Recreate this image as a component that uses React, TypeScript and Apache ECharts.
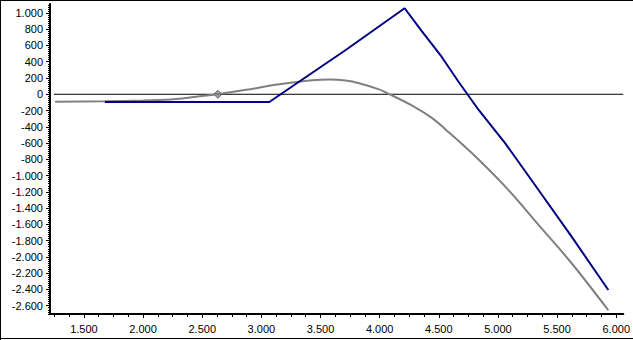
import React, { useEffect, useRef } from "react";
import * as echarts from "echarts";

// Blue series (payoff at expiry) [x, y]
const blueLine: [number, number][] = [
  [1.677, -95],
  [3.067, -95],
  [3.716, 548],
  [4.211, 1058],
  [4.348, 791],
  [4.525, 459],
  [4.668, 151],
  [4.837, -193],
  [5.062, -603],
  [5.343, -1177],
  [5.623, -1751],
  [5.933, -2407],
];

// Grey series (current value curve) [x, y]
const greyLine: [number, number][] = [
  [1.256, -92],
  [1.677, -86],
  [2.0, -78],
  [2.124, -72],
  [2.309, -55],
  [2.45, -30],
  [2.632, 0],
  [2.871, 55],
  [3.152, 122],
  [3.43, 172],
  [3.573, 182],
  [3.714, 168],
  [3.826, 135],
  [3.994, 60],
  [4.062, 15],
  [4.275, -140],
  [4.441, -291],
  [4.559, -435],
  [4.781, -726],
  [5.062, -1136],
  [5.343, -1605],
  [5.623, -2078],
  [5.933, -2656],
];

// Break-even marker
const markerPoint: [number, number][] = [[2.632, 0]];

// Zero reference line
const zeroLine: [number, number][] = [
  [1.247, 0],
  [6.06, 0],
];

const xMin = 1.213;
const xMax = 6.06;
const yMin = -2702;
const yMax = 1110;

const xTickValues = [1.5, 2.0, 2.5, 3.0, 3.5, 4.0, 4.5, 5.0, 5.5, 6.0];
const xMinorTicks: number[] = [];
for (let i = 10; i <= 48; i++) xMinorTicks.push(i * 0.125);

const yTickValues: number[] = [];
for (let v = -2600; v <= 1000; v += 200) yTickValues.push(v);
const yMinorTicks: number[] = [];
for (let v = -2700; v <= 1100; v += 25) yMinorTicks.push(v);

const fmtY = (v: number) => {
  const s = Math.abs(Math.round(v))
    .toString()
    .replace(/\B(?=(\d{3})+(?!\d))/g, ".");
  return (v < 0 ? "-" : "") + s;
};

const labelFont = {
  fontFamily: "Liberation Sans, Arial, sans-serif",
  fontSize: 11,
  color: "#000",
};

export default function App() {
  const ref = useRef<HTMLDivElement>(null);

  useEffect(() => {
    if (!ref.current) return;
    const chart = echarts.init(ref.current, undefined, { renderer: "svg" });
    chart.setOption({
      animation: false,
      backgroundColor: "#fff",
      grid: { left: 50, right: 8, top: 4, bottom: 26, containLabel: false },
      xAxis: [
        {
          type: "value",
          min: xMin,
          max: xMax,
          position: "bottom",
          axisLine: { show: true, onZero: false, lineStyle: { color: "#000", width: 2 } },
          axisTick: {
            show: true,
            length: 4,
            customValues: xTickValues,
            lineStyle: { color: "#000", width: 1 },
          },
          axisLabel: {
            ...labelFont,
            margin: 9,
            customValues: xTickValues,
            formatter: (v: number) => v.toFixed(3),
          },
          splitLine: { show: false },
        },
        {
          type: "value",
          min: xMin,
          max: xMax,
          position: "bottom",
          offset: 0,
          axisLine: { show: false, onZero: false },
          axisTick: {
            show: true,
            length: 3,
            customValues: xMinorTicks,
            lineStyle: { color: "#000", width: 1 },
          },
          axisLabel: { show: false },
          splitLine: { show: false },
        },
      ],
      yAxis: [
        {
          type: "value",
          min: yMin,
          max: yMax,
          position: "left",
          axisLine: { show: true, onZero: false, lineStyle: { color: "#000", width: 2 } },
          axisTick: {
            show: true,
            length: 4,
            customValues: yTickValues,
            lineStyle: { color: "#000", width: 1 },
          },
          axisLabel: {
            ...labelFont,
            margin: 7,
            customValues: yTickValues,
            formatter: fmtY,
          },
          splitLine: { show: false },
        },
        {
          type: "value",
          min: yMin,
          max: yMax,
          position: "left",
          offset: 0,
          axisLine: { show: false, onZero: false },
          axisTick: {
            show: true,
            length: 2,
            customValues: yMinorTicks,
            lineStyle: { color: "#000", width: 1 },
          },
          axisLabel: { show: false },
          splitLine: { show: false },
        },
      ],
      series: [
        {
          type: "line",
          data: zeroLine,
          xAxisIndex: 0,
          yAxisIndex: 0,
          symbol: "none",
          lineStyle: { color: "#000", width: 1 },
          silent: true,
        },
        {
          type: "line",
          name: "grey",
          data: greyLine,
          xAxisIndex: 0,
          yAxisIndex: 0,
          symbol: "none",
          smooth: 0.35,
          lineStyle: { color: "#808080", width: 2 },
        },
        {
          type: "line",
          name: "blue",
          data: blueLine,
          xAxisIndex: 0,
          yAxisIndex: 0,
          symbol: "none",
          lineStyle: { color: "#000080", width: 2 },
        },
        {
          type: "scatter",
          data: markerPoint,
          xAxisIndex: 0,
          yAxisIndex: 0,
          symbol: "diamond",
          symbolSize: [8, 8],
          itemStyle: { color: "#8c8c8c", borderColor: "#404040", borderWidth: 1 },
        },
      ],
      graphic: [
        { type: "line", shape: { x1: 0, y1: 0.5, x2: 633, y2: 0.5 }, style: { stroke: "#000", lineWidth: 1 } },
        { type: "line", shape: { x1: 0.5, y1: 0, x2: 0.5, y2: 340 }, style: { stroke: "#000", lineWidth: 1 } },
        { type: "line", shape: { x1: 0, y1: 338.5, x2: 633, y2: 338.5 }, style: { stroke: "#000", lineWidth: 1 } },
      ],
    });
    return () => chart.dispose();
  }, []);

  return (
    <div
      ref={ref}
      style={{ position: "fixed", left: 0, top: 0, width: 633, height: 340, background: "#fff" }}
    />
  );
}
